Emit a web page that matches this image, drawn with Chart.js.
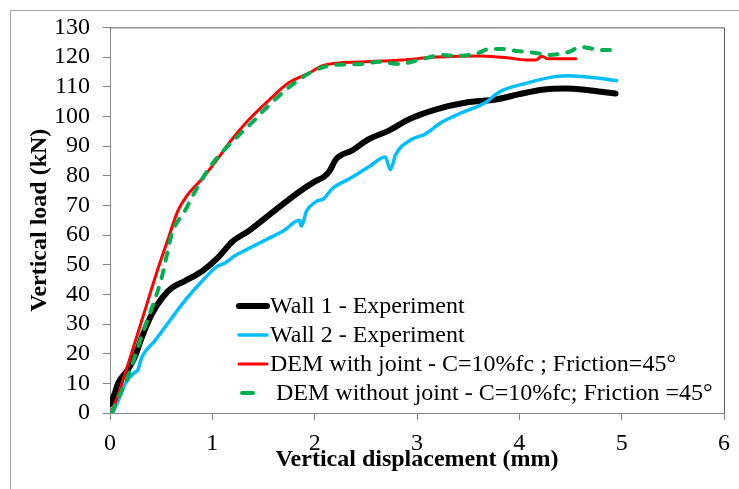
<!DOCTYPE html>
<html>
<head>
<meta charset="utf-8">
<script src="https://cdn.jsdelivr.net/npm/chart.js@4.4.1/dist/chart.umd.min.js"></script>
<style>
  html, body { margin: 0; padding: 0; background: #fff; }
  #mycanvas { display: block; }
</style>
</head>
<body>
<canvas id="mycanvas" width="739" height="489"></canvas>
<script>
// tick settings
var xTicks = [0, 1, 2, 3, 4, 5, 6];
var yTicks = [0, 10, 20, 30, 40, 50, 60, 70, 80, 90, 100, 110, 120, 130];

var labels = [
  'Wall 1 - Experiment',
  'Wall 2 - Experiment',
  'DEM with joint - C=10%fc ; Friction=45°',
  ' DEM without joint - C=10%fc; Friction =45°'
];

// Wall 1 - experiment
var wall1X = [0, 0.04, 0.08, 0.17, 0.24, 0.31, 0.41, 0.51, 0.6, 0.73, 0.9, 1.05, 1.2, 1.36, 1.6, 1.85, 2.0, 2.09, 2.14, 2.21, 2.37, 2.53, 2.73, 2.92, 3.18, 3.48, 3.77, 3.99, 4.22, 4.45, 4.64, 4.94];
var wall1Y = [3, 6, 10, 14.4, 18.7, 25.4, 33.4, 38.8, 42.1, 44.5, 47.8, 52.2, 57.9, 61.5, 68, 74.6, 78, 79.6, 81.3, 85.6, 88.6, 92.3, 95.3, 99, 102.3, 104.7, 105.7, 107.4, 109, 109.4, 109, 107.7];

// Wall 2 - experiment
var wall2X = [0.02, 0.07, 0.15, 0.24, 0.27, 0.31, 0.44, 0.56, 0.73, 0.9, 1.05, 1.12, 1.22, 1.33, 1.53, 1.7, 1.85, 1.87, 1.92, 2.01, 2.09, 2.17, 2.34, 2.53, 2.69, 2.74, 2.79, 2.95, 3.08, 3.24, 3.44, 3.67, 3.77, 3.83, 4.09, 4.35, 4.48, 4.74, 4.95];
var wall2Y = [0, 3.3, 10, 13.7, 14.4, 18.7, 24.4, 30, 37.8, 44.5, 49.5, 50.5, 53, 55, 58.5, 61.5, 65, 63, 68, 71.2, 72.3, 75.6, 79, 83, 86.3, 82, 87, 92.3, 94, 98, 101.3, 104.7, 107.4, 108.7, 111.4, 113.4, 113.7, 113, 112];

// DEM with joint
var demJointX = [0.02, 0.05, 0.24, 0.37, 0.47, 0.57, 0.66, 0.76, 0.9, 1.05, 1.17, 1.36, 1.56, 1.75, 1.95, 2.07, 2.24, 2.5, 2.85, 3.18, 3.63, 3.9, 4.06, 4.16, 4.22, 4.28, 4.55];
var demJointY = [1, 3.3, 23.4, 37.8, 48.8, 58.9, 67.9, 73.6, 79, 85.6, 91.3, 99, 105.7, 111.4, 114.7, 117, 118, 118.4, 119, 120, 120.4, 119.7, 119, 119, 120.3, 119.4, 119.4];

// DEM without joint
var demNoJointX = [0.02, 0.08, 0.16, 0.32, 0.5, 0.61, 0.73, 0.83, 0.99, 1.24, 1.39, 1.56, 1.72, 1.85, 2.01, 2.21, 2.43, 2.63, 2.82, 3.02, 3.24, 3.41, 3.6, 3.7, 3.83, 3.99, 4.16, 4.28, 4.48, 4.6, 4.8, 4.94];
var demNoJointY = [0, 5, 11, 27, 45, 61, 68, 74.6, 83.6, 93, 98, 104, 109, 112.4, 115.7, 117.4, 117.6, 118.4, 117.7, 119, 120.7, 120.4, 121.4, 122.7, 122.7, 122, 121.4, 120.7, 121.7, 123.4, 122.4, 122.4];

function pts(xs, ys) {
  var out = [];
  for (var i in xs) {
    out.push({x: xs[i], y: ys[i]});
  }
  return out;
}

var serif = "'Liberation Serif', 'Times New Roman', serif";

// frame + legend drawn by hand, the way the original sheet has it
var framePlugin = {
  id: 'frame',
  beforeDraw: function(chart) {
    var c = chart.ctx;
    c.save();
    c.strokeStyle = '#a6a6a6';
    c.lineWidth = 1;
    c.beginPath();
    c.moveTo(10.5, 489);
    c.lineTo(10.5, 10.5);
    c.lineTo(739, 10.5);
    c.stroke();
    c.restore();
  },
  afterDraw: function(chart) {
    var c = chart.ctx;
    var a = chart.chartArea;
    c.save();
    c.strokeStyle = '#595959';
    c.lineWidth = 1;
    c.beginPath();
    c.moveTo(a.left, a.top + 0.5);
    c.lineTo(a.right + 0.5, a.top + 0.5);
    c.lineTo(a.right + 0.5, a.bottom);
    c.stroke();

    // legend
    var x0 = 238, y0 = 306, step = 29;
    c.font = '24px ' + serif;
    c.textBaseline = 'middle';
    c.textAlign = 'left';
    chart.data.datasets.forEach(function(ds, i) {
      var y = y0 + i * step;
      c.strokeStyle = ds.borderColor;
      c.lineWidth = ds.borderWidth;
      c.lineCap = 'round';
      c.setLineDash([]);
      c.beginPath();
      if (ds.borderDash && ds.borderDash.length) {
        c.moveTo(x0 + 4, y);
        c.lineTo(x0 + 15, y);
      } else {
        c.moveTo(x0 + 1, y);
        c.lineTo(x0 + 29, y);
      }
      c.stroke();
      c.fillStyle = '#000';
      c.fillText(ds.label, x0 + 32, y + 1);
    });
    c.restore();
  }
};

var chartdata = {
  datasets: [
    {
      label: labels[0],
      data: pts(wall1X, wall1Y),
      borderColor: '#000000',
      borderWidth: 6,
      order: 4
    },
    {
      label: labels[1],
      data: pts(wall2X, wall2Y),
      borderColor: '#00bfff',
      borderWidth: 3.5,
      order: 3
    },
    {
      label: labels[2],
      data: pts(demJointX, demJointY),
      borderColor: '#ff0000',
      borderWidth: 3,
      order: 2
    },
    {
      label: labels[3],
      data: pts(demNoJointX, demNoJointY),
      borderColor: '#00b050',
      borderWidth: 4,
      borderDash: [8, 10],
      order: 1
    }
  ]
};

chartdata.datasets.forEach(function(ds) {
  ds.showLine = true;
  ds.pointRadius = 0;
  ds.cubicInterpolationMode = 'monotone';
  ds.borderCapStyle = 'round';
  ds.borderJoinStyle = 'round';
  ds.fill = false;
});

var ctx = document.getElementById('mycanvas');

var lineGraph = new Chart(ctx, {
  type: 'scatter',
  data: chartdata,
  plugins: [framePlugin],
  options: {
    responsive: false,
    animation: false,
    events: [],
    layout: { padding: { left: 0, top: 24, right: 13, bottom: 0 } },
    plugins: {
      legend: { display: false },
      tooltip: { enabled: false }
    },
    scales: {
      x: {
        type: 'linear',
        min: xTicks[0],
        max: xTicks[xTicks.length - 1],
        afterFit: function(s) { s.height = 76; },
        afterBuildTicks: function(s) { s.ticks = xTicks.map(function(v) { return {value: v}; }); },
        border: { color: '#868686', width: 1 },
        grid: { drawOnChartArea: false, drawTicks: true, tickLength: 7, color: '#868686' },
        ticks: { color: '#000', padding: 9, maxRotation: 0, autoSkip: false, font: { family: serif, size: 24 } },
        title: {
          display: true,
          text: 'Vertical displacement (mm)',
          color: '#000',
          padding: { top: 0, bottom: 15 },
          font: { family: serif, size: 24, weight: 'bold' }
        }
      },
      y: {
        type: 'linear',
        min: yTicks[0],
        max: yTicks[yTicks.length - 1],
        afterFit: function(s) { s.width = 110; },
        afterBuildTicks: function(s) { s.ticks = yTicks.map(function(v) { return {value: v}; }); },
        border: { color: '#868686', width: 1 },
        grid: { drawOnChartArea: false, drawTicks: true, tickLength: 7, color: '#868686' },
        ticks: { color: '#000', padding: 13, autoSkip: false, font: { family: serif, size: 24 } },
        title: {
          display: true,
          text: 'Vertical load (kN)',
          color: '#000',
          padding: { top: 25, bottom: 0 },
          font: { family: serif, size: 24, weight: 'bold' }
        }
      }
    }
  }
});
</script>
</body>
</html>
